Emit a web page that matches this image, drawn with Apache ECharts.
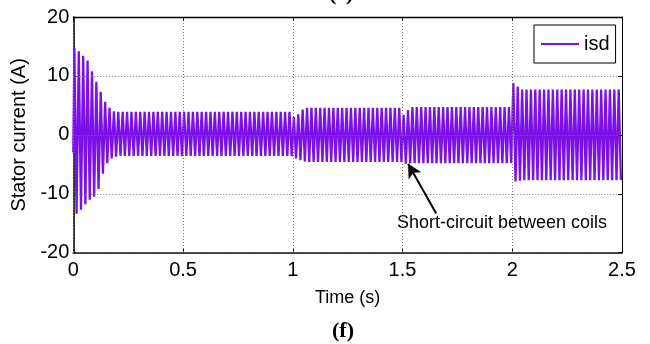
<!DOCTYPE html>
<html><head><meta charset="utf-8">
<script src="https://cdn.jsdelivr.net/npm/echarts@6/dist/echarts.min.js"></script>
<style>html,body{margin:0;padding:0;background:#fff}#c{width:650px;height:344px}</style>
</head><body><div id="c"></div>
<script>
// ---- data ----
const xTickLabels = ['0', '0.5', '1', '1.5', '2', '2.5'];
const yTickLabels = ['-20', '-10', '0', '10', '20'];
const seriesName = 'isd';
const xTitle = 'Time (s)';
const yTitle = 'Stator current (A)';
const caption = '(f)';
const prevCaption = '(e)';
const annotationText = 'Short-circuit between coils';
const arrowFrom = [1.6535, -13.36];
const arrowTo = [1.5255, -4.9];
const period = 0.02;           // one oscillation (50 Hz)
const startValue = -3.0;       // value at t = 0
// positive peak of each cycle (125 cycles over 2.5 s)
const upperPeaks = [
  14.8, 14.2, 13.4, 12.6, 10.8, 9.0, 7.3, 5.6, 4.6, 4.0,
  3.9, 3.9, 3.9, 3.9, 3.9, 3.9, 3.9, 3.9, 3.9, 3.9,
  3.9, 3.9, 3.9, 3.9, 3.9, 3.9, 3.9, 3.9, 3.9, 3.9,
  3.9, 3.9, 3.9, 3.9, 3.9, 3.9, 3.9, 3.9, 3.9, 3.9,
  3.9, 3.9, 3.9, 3.9, 3.9, 3.9, 3.9, 3.9, 3.9, 3.9,
  3.0, 3.5, 4.3, 4.6, 4.6, 4.6, 4.6, 4.6, 4.6, 4.6,
  4.6, 4.6, 4.6, 4.6, 4.6, 4.6, 4.6, 4.6, 4.6, 4.6,
  4.6, 4.6, 4.6, 4.6, 4.6, 3.4, 4.2, 4.7, 4.7, 4.7,
  4.7, 4.7, 4.7, 4.7, 4.7, 4.7, 4.7, 4.7, 4.7, 4.7,
  4.7, 4.7, 4.7, 4.7, 4.7, 4.7, 4.7, 4.7, 4.7, 4.7,
  8.8, 8.2, 7.7, 7.7, 7.7, 7.7, 7.7, 7.7, 7.7, 7.7,
  7.7, 7.7, 7.7, 7.7, 7.7, 7.7, 7.7, 7.7, 7.7, 7.7,
  7.7, 7.7, 7.7, 7.7, 7.7
];
// negative peak of each cycle
const lowerPeaks = [
  -13.4, -12.7, -11.8, -11.0, -10.5, -9.2, -6.6, -4.8, -4.0, -3.7,
  -3.6, -3.6, -3.6, -3.6, -3.6, -3.6, -3.6, -3.6, -3.6, -3.6,
  -3.6, -3.6, -3.6, -3.6, -3.6, -3.6, -3.6, -3.6, -3.6, -3.6,
  -3.6, -3.6, -3.6, -3.6, -3.6, -3.6, -3.6, -3.6, -3.6, -3.6,
  -3.6, -3.6, -3.6, -3.6, -3.6, -3.6, -3.6, -3.6, -3.6, -3.6,
  -4.0, -4.3, -4.5, -4.6, -4.6, -4.6, -4.6, -4.6, -4.6, -4.6,
  -4.6, -4.6, -4.6, -4.6, -4.6, -4.6, -4.6, -4.6, -4.6, -4.6,
  -4.6, -4.6, -4.6, -4.6, -4.6, -4.9, -4.8, -4.8, -4.8, -4.8,
  -4.8, -4.8, -4.8, -4.8, -4.8, -4.8, -4.8, -4.8, -4.8, -4.8,
  -4.8, -4.8, -4.8, -4.8, -4.8, -4.8, -4.8, -4.8, -4.8, -4.8,
  -7.9, -7.8, -7.7, -7.7, -7.7, -7.7, -7.7, -7.7, -7.7, -7.7,
  -7.7, -7.7, -7.7, -7.7, -7.7, -7.7, -7.7, -7.7, -7.7, -7.7,
  -7.7, -7.7, -7.7, -7.7, -7.7
];

// ---- build series points from the peaks ----
const points = [[0, startValue]];
for (let k = 0; k < upperPeaks.length; k++) {
  points.push([k * period + period / 4, upperPeaks[k]]);
  points.push([k * period + 3 * period / 4, lowerPeaks[k]]);
}
const xMin = Number(xTickLabels[0]), xMax = Number(xTickLabels[xTickLabels.length - 1]);
const xStep = Number(xTickLabels[1]) - xMin;
const yMin = Number(yTickLabels[0]), yMax = Number(yTickLabels[yTickLabels.length - 1]);
const yStep = Number(yTickLabels[1]) - yMin;

const FONT = '"Liberation Sans", Arial, sans-serif';
const gridLine = { show: true, lineStyle: { color: '#777', type: [1, 2], width: 1 } };

const chart = echarts.init(document.getElementById('c'), null, { renderer: 'canvas' });
chart.setOption({
  animation: false,
  backgroundColor: '#fff',
  grid: { left: 73.3, right: 28, top: 17, bottom: 91.3, containLabel: false },
  legend: {
    show: true, left: 534, top: 25, z: 10,
    padding: [9, 6, 9, 7],
    backgroundColor: '#fff', borderColor: '#000', borderWidth: 1,
    itemWidth: 38, itemHeight: 14, itemGap: 5,
    textStyle: { fontFamily: FONT, fontSize: 20, color: '#000', lineHeight: 20 },
    data: [{ name: seriesName, icon: 'path://M0,0 L38,0 L38,2 L0,2 Z' }]
  },
  xAxis: [
    {
      type: 'value', position: 'bottom', min: xMin, max: xMax, interval: xStep,
      axisLine: { show: true, onZero: false, lineStyle: { color: '#000', width: 1.6 } },
      axisTick: { show: true, inside: true, length: 4, lineStyle: { color: '#000' } },
      axisLabel: { fontFamily: FONT, fontSize: 20, color: '#000', margin: 8,
        formatter: (v) => xTickLabels[Math.round((v - xMin) / xStep)] },
      splitLine: { show: false },
      name: xTitle, nameLocation: 'middle', nameGap: 36,
      nameTextStyle: { fontFamily: FONT, fontSize: 18, color: '#000' }
    },
    {
      type: 'value', position: 'top', min: xMin, max: xMax, interval: xStep, z: 5,
      axisLine: { show: true, onZero: false, lineStyle: { color: '#000', width: 1.3 } },
      axisTick: { show: true, inside: true, length: 4, lineStyle: { color: '#000' } },
      axisLabel: { show: false },
      splitLine: gridLine
    }
  ],
  yAxis: [
    {
      type: 'value', position: 'left', min: yMin, max: yMax, interval: yStep,
      axisLine: { show: true, onZero: false, lineStyle: { color: '#000', width: 1.6 } },
      axisTick: { show: true, inside: true, length: 4, lineStyle: { color: '#000' } },
      axisLabel: { fontFamily: FONT, fontSize: 20, color: '#000', margin: 4,
        formatter: (v) => yTickLabels[Math.round((v - yMin) / yStep)] },
      splitLine: { show: false },
      name: yTitle, nameLocation: 'middle', nameGap: 39, nameRotate: 90,
      nameTextStyle: { fontFamily: FONT, fontSize: 20, color: '#000' }
    },
    {
      type: 'value', position: 'right', min: yMin, max: yMax, interval: yStep, z: 5,
      axisLine: { show: true, onZero: false, lineStyle: { color: '#000', width: 1 } },
      axisTick: { show: true, inside: true, length: 4, lineStyle: { color: '#000' } },
      axisLabel: { show: false },
      splitLine: gridLine
    }
  ],
  series: [{
    name: seriesName, type: 'line', xAxisIndex: 0, yAxisIndex: 0,
    data: points, showSymbol: false, symbol: 'none', smooth: false,
    lineStyle: { color: '#7B11E8', width: 2.3 }, itemStyle: { color: '#7B11E8' },
    z: 2,
    markLine: {
      silent: true, animation: false, z: 6,
      symbol: ['none', 'arrow'], symbolSize: [11, 14],
      lineStyle: { color: '#000', width: 2, type: 'solid' },
      label: { show: false },
      data: [[{ coord: arrowFrom }, { coord: arrowTo }]]
    }
  }],
  graphic: [
    { type: 'text', left: 397, top: 214, z: 20,
      style: { text: annotationText, font: '18px ' + FONT, fill: '#000' } },
    { type: 'text', left: 332, top: 320, z: 20,
      style: { text: caption, font: 'bold 22px "Liberation Serif", "Times New Roman", serif', fill: '#000' } },
    { type: 'text', left: 329, top: -17, z: 20,
      style: { text: prevCaption, font: 'bold 22px "Liberation Serif", "Times New Roman", serif', fill: '#000' } }
  ]
});
</script></body></html>
